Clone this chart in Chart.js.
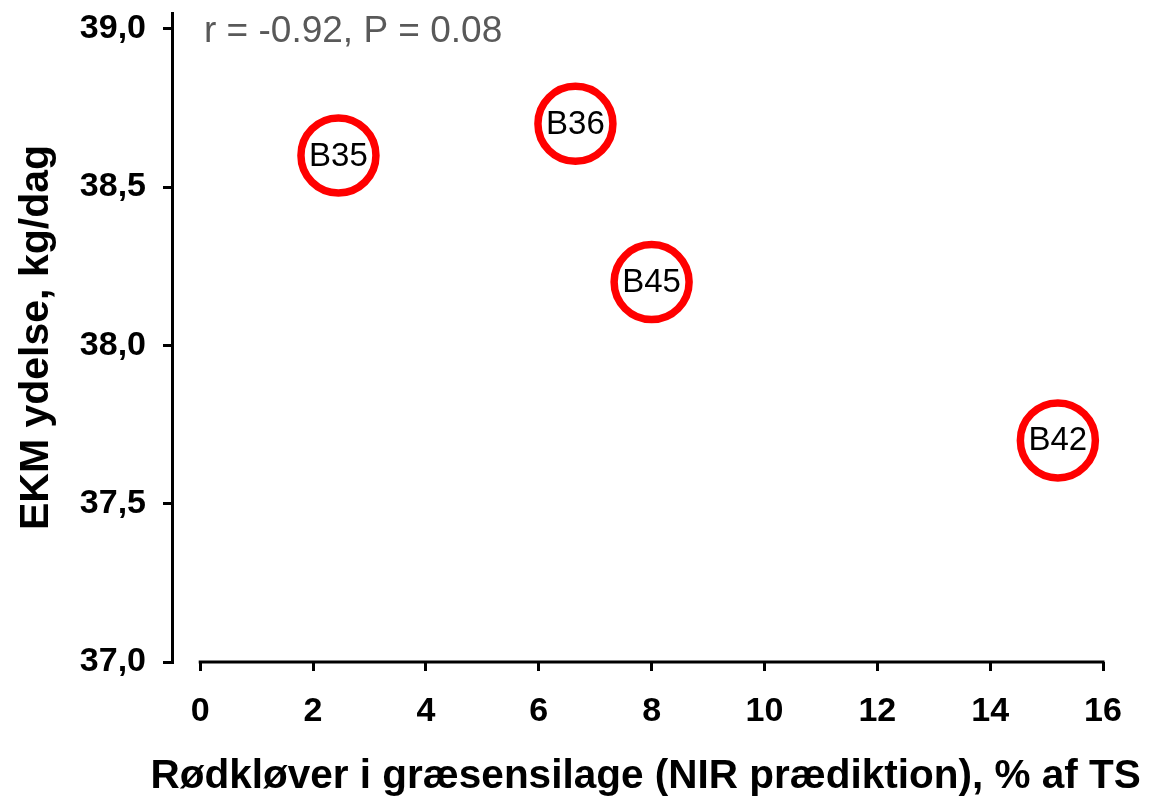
<!DOCTYPE html>
<html>
<head>
<meta charset="utf-8">
<script src="https://cdn.jsdelivr.net/npm/chart.js@4/dist/chart.umd.min.js"></script>
<style>
  html, body { margin: 0; padding: 0; background: #fff; }
  #wrap { width: 1151px; height: 798px; position: relative; }
</style>
</head>
<body>
<div id="wrap"><canvas id="c"></canvas></div>
<script>
// Silage samples: red clover share vs. ECM yield
const sampleNames = ['B35', 'B36', 'B45', 'B42'];
const redCloverPct = [2.45, 6.65, 8.0, 15.2];
const ecmYield = [38.6, 38.7, 38.2, 37.7];

const xTickValues = [0, 2, 4, 6, 8, 10, 12, 14, 16];
const yTickValues = [37.0, 37.5, 38.0, 38.5, 39.0];

const statsText = 'r = -0.92, P = 0.08';
const xTitle = 'Rødkløver i græsensilage (NIR prædiktion), % af TS';
const yTitle = 'EKM ydelse, kg/dag';

const FONT = '"Liberation Sans", Arial, sans-serif';

// x-axis baseline runs only across the tick range (0..16)
const xBaseline = {
  id: 'xBaseline',
  afterDraw(chart) {
    const x = chart.scales.x;
    const ctx = chart.ctx;
    const first = xTickValues[0], last = xTickValues[xTickValues.length - 1];
    ctx.save();
    ctx.strokeStyle = '#000';
    ctx.lineWidth = 3;
    ctx.lineCap = 'butt';
    ctx.beginPath();
    ctx.moveTo(x.getPixelForValue(first) - 1.5, x.top);
    ctx.lineTo(x.getPixelForValue(last) + 1.5, x.top);
    ctx.stroke();
    ctx.restore();
  }
};

// x-axis title: wider than the plot, so it is centred under the tick range
// and allowed to run past the plot edges
const xAxisTitle = {
  id: 'xAxisTitle',
  afterDraw(chart) {
    const x = chart.scales.x;
    const ctx = chart.ctx;
    const cx = (x.getPixelForValue(xTickValues[0]) + x.getPixelForValue(xTickValues[xTickValues.length - 1])) / 2 - 6;
    ctx.save();
    ctx.font = 'bold 40.5px ' + FONT;
    ctx.fillStyle = '#000';
    ctx.textAlign = 'center';
    ctx.textBaseline = 'middle';
    ctx.fillText(xTitle, cx, x.bottom - 21);
    ctx.restore();
  }
};

// sample names written inside the circles
const pointNames = {
  id: 'pointNames',
  afterDatasetsDraw(chart) {
    const meta = chart.getDatasetMeta(0);
    const ctx = chart.ctx;
    ctx.save();
    ctx.font = '33px ' + FONT;
    ctx.fillStyle = '#000';
    ctx.textAlign = 'center';
    ctx.textBaseline = 'middle';
    meta.data.forEach((el, i) => {
      ctx.fillText(sampleNames[i], el.x, el.y + 1);
    });
    ctx.restore();
  }
};

// correlation note in the upper-left corner of the plot
const statsNote = {
  id: 'statsNote',
  afterDraw(chart) {
    const ctx = chart.ctx;
    const a = chart.chartArea;
    ctx.save();
    ctx.font = '37px ' + FONT;
    ctx.fillStyle = '#595959';
    ctx.textAlign = 'left';
    ctx.textBaseline = 'middle';
    ctx.fillText(statsText, a.left + 32, a.top + 19);
    ctx.restore();
  }
};

new Chart(document.getElementById('c'), {
  type: 'scatter',
  data: {
    datasets: [{
      data: redCloverPct.map((v, i) => ({ x: v, y: ecmYield[i] })),
      pointRadius: 37.5,
      pointHoverRadius: 37.5,
      borderWidth: 7.5,
      pointBorderWidth: 7.5,
      borderColor: '#ff0000',
      backgroundColor: '#ffffff',
      clip: false
    }]
  },
  options: {
    responsive: true,
    maintainAspectRatio: false,
    animation: false,
    events: [],
    layout: { autoPadding: false, padding: { top: 13, right: 48, left: 0, bottom: 0 } },
    plugins: { legend: { display: false }, tooltip: { enabled: false } },
    scales: {
      x: {
        type: 'linear',
        min: -0.5,
        max: 16,
        afterBuildTicks(scale) { scale.ticks = xTickValues.map(v => ({ value: v })); },
        afterFit(scale) {
          scale.height = 136;
          scale.paddingLeft = 0;
          scale.paddingRight = 0;
        },
        border: { display: false },
        grid: {
          display: true, drawOnChartArea: false, drawTicks: true,
          tickLength: 9, lineWidth: 3, color: '#000'
        },
        ticks: {
          color: '#000',
          padding: 20,
          maxRotation: 0,
          font: { family: FONT, size: 34, weight: 'bold' },
          callback: v => String(v)
        },
        title: { display: false }
      },
      y: {
        type: 'linear',
        min: 37,
        max: 39.05,
        afterBuildTicks(scale) { scale.ticks = yTickValues.map(v => ({ value: v })); },
        afterFit(scale) {
          scale.width = 172;
          scale.paddingTop = 0;
          scale.paddingBottom = 0;
        },
        border: { display: true, color: '#000', width: 3 },
        grid: {
          display: true, drawOnChartArea: false, drawTicks: true,
          tickLength: 9, lineWidth: 3, color: '#000'
        },
        ticks: {
          color: '#000',
          padding: 17,
          font: { family: FONT, size: 34, weight: 'bold' },
          callback: v => Number(v).toFixed(1).replace('.', ',')
        },
        title: {
          display: true,
          text: yTitle,
          color: '#000',
          padding: { top: 12, bottom: 0 },
          font: { family: FONT, size: 41, weight: 'bold' }
        }
      }
    }
  },
  plugins: [xBaseline, xAxisTitle, pointNames, statsNote]
});
</script>
</body>
</html>
